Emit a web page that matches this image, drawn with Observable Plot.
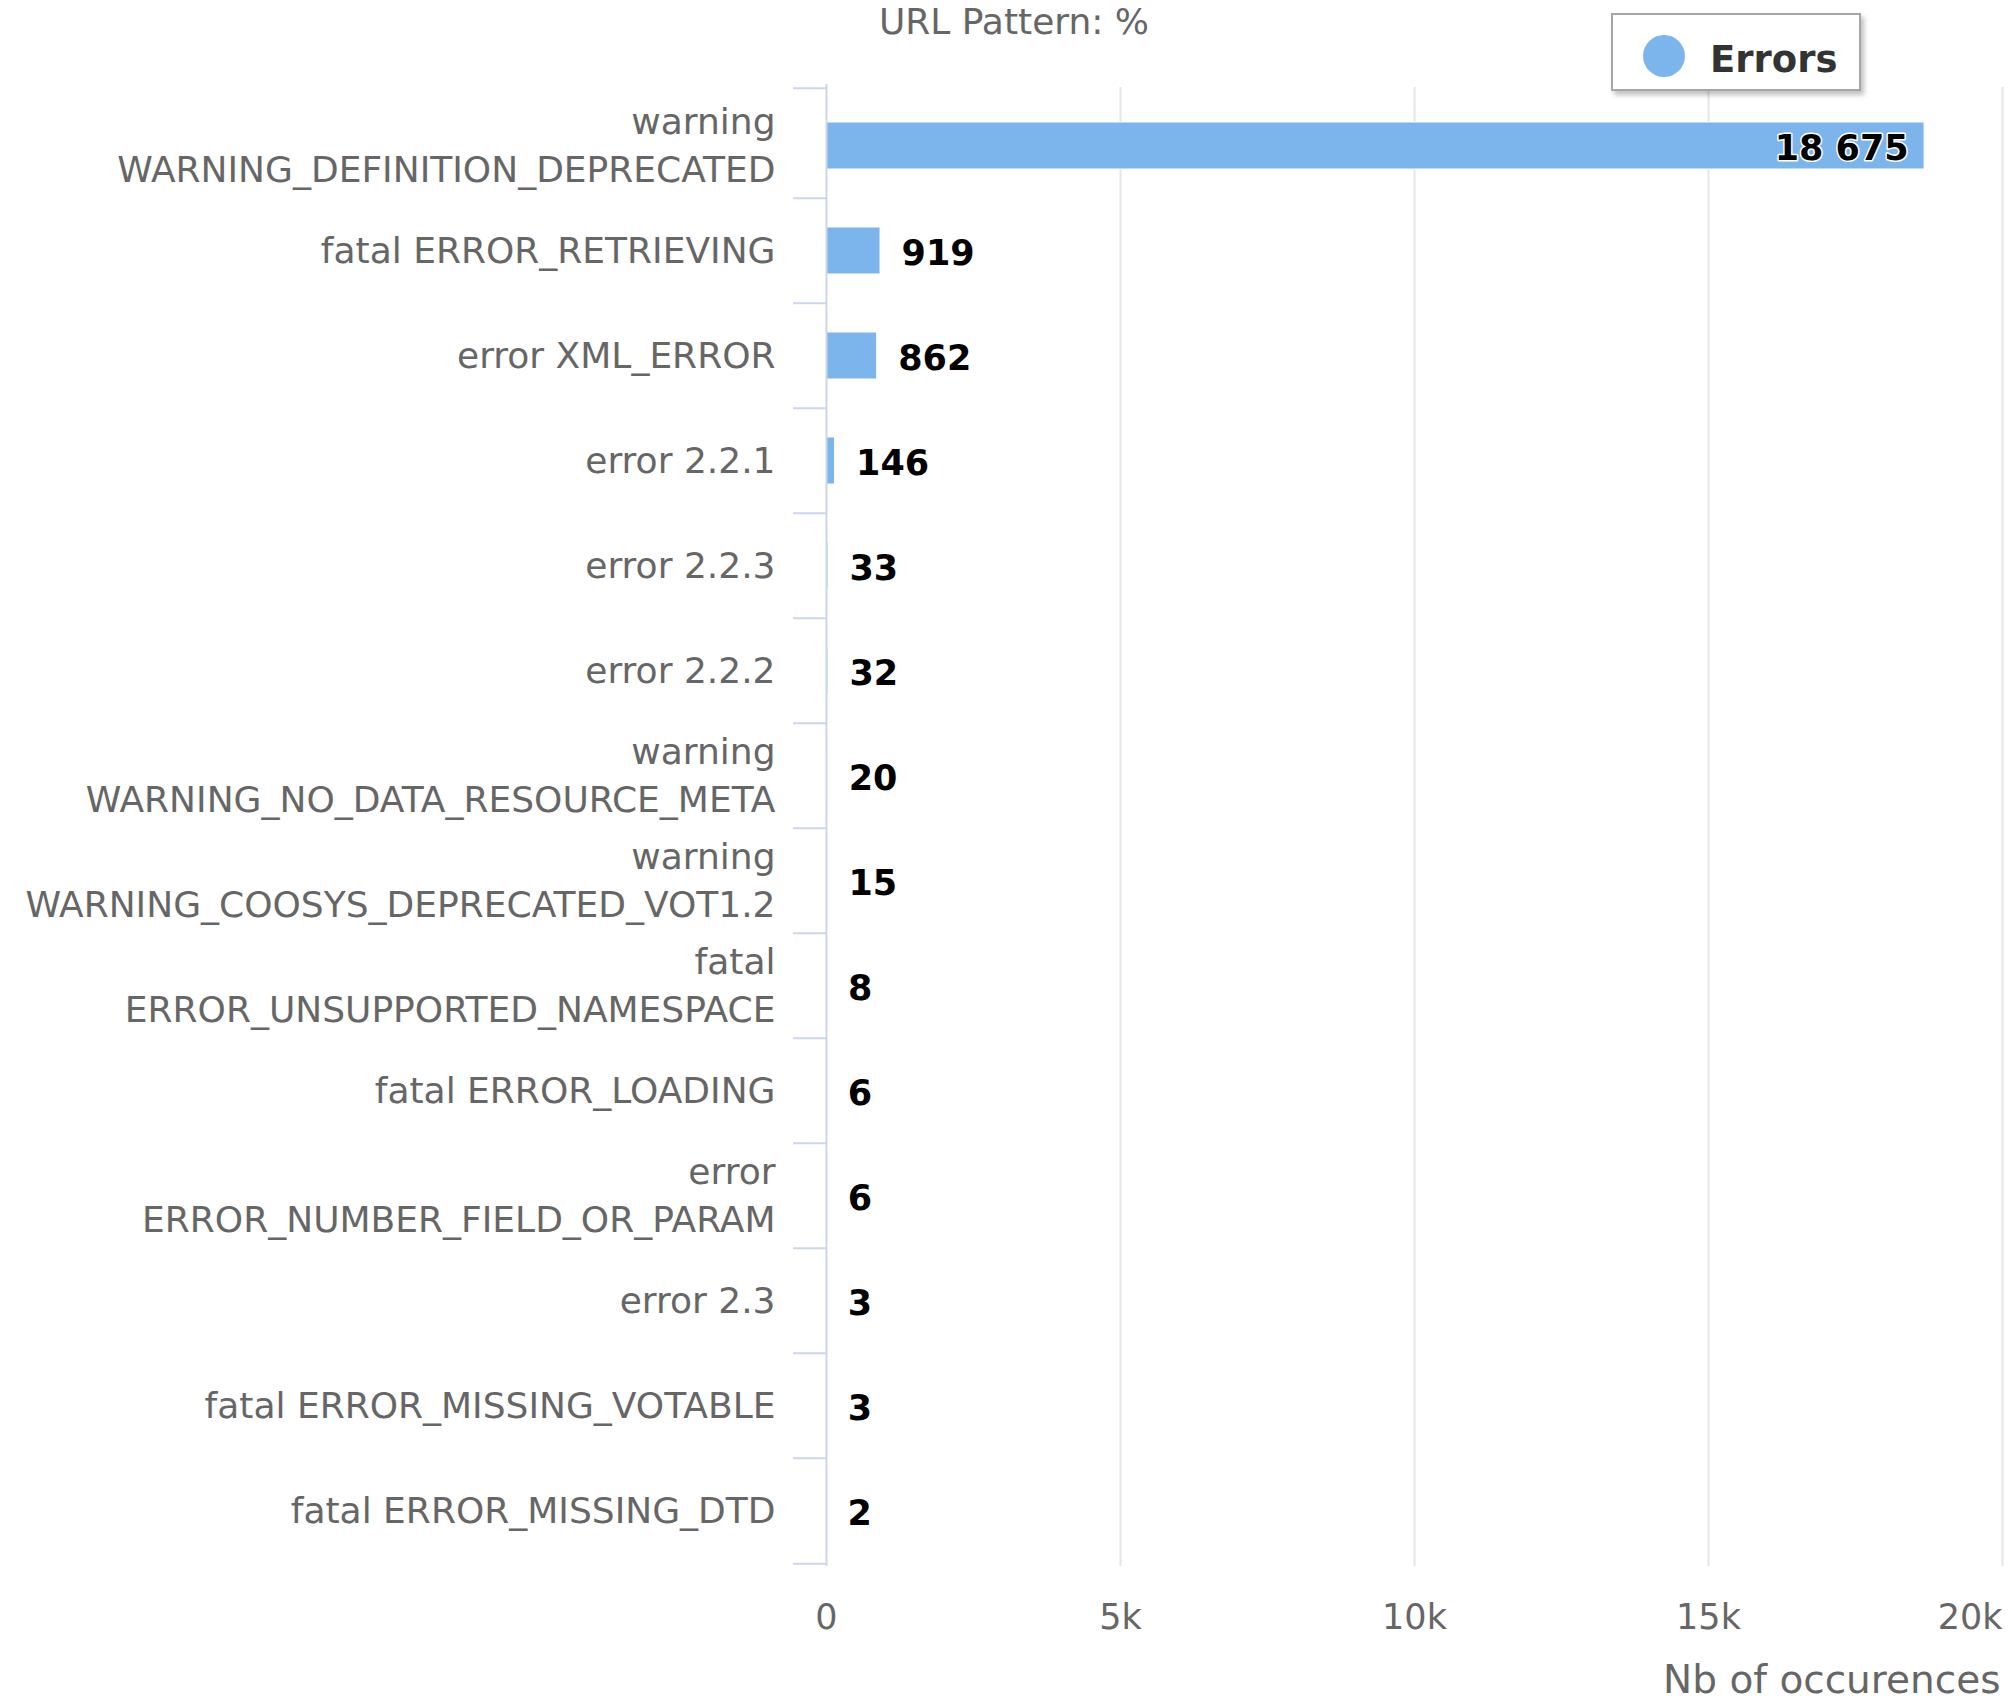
<!DOCTYPE html>
<html>
<head>
<meta charset="utf-8">
<script src="https://cdn.jsdelivr.net/npm/d3@7"></script>
<script src="https://cdn.jsdelivr.net/npm/@observablehq/plot@0.6"></script>
<style>
  html, body { margin: 0; padding: 0; background: #fff; }
  #wrap { position: relative; width: 2015px; height: 1700px; font-family: "DejaVu Sans", sans-serif; }
  #title { position: absolute; left: 0; width: 2028px; top: 0; text-align: center; font-size: 36px; color: #666; line-height: 44px; }
  #legend { position: absolute; left: 1611px; top: 13px; width: 246px; height: 74px; background: #fff;
            border: 2px solid #a6a6a6; box-shadow: 3px 4px 5px rgba(0,0,0,0.25); box-sizing: content-box; }
  #legend .dot { position: absolute; left: 30px; top: 20px; width: 42px; height: 42px; border-radius: 50%; background: #7cb5ec; }
  #legend .lab { position: absolute; left: 97px; top: 16px; font-size: 37px; font-weight: bold; color: #333; line-height: 58px; }
</style>
</head>
<body>
<div id="wrap">
  <div id="chart"></div>
  <div id="title">URL Pattern: %</div>
  <div id="legend"><div class="dot"></div><div class="lab">Errors</div></div>
</div>
<script>
const categories = [
  "warning\nWARNING_DEFINITION_DEPRECATED",
  "fatal ERROR_RETRIEVING",
  "error XML_ERROR",
  "error 2.2.1",
  "error 2.2.3",
  "error 2.2.2",
  "warning\nWARNING_NO_DATA_RESOURCE_META",
  "warning\nWARNING_COOSYS_DEPRECATED_VOT1.2",
  "fatal\nERROR_UNSUPPORTED_NAMESPACE",
  "fatal ERROR_LOADING",
  "error\nERROR_NUMBER_FIELD_OR_PARAM",
  "error 2.3",
  "fatal ERROR_MISSING_VOTABLE",
  "fatal ERROR_MISSING_DTD"
];
const values = [18675, 919, 862, 146, 33, 32, 20, 15, 8, 6, 6, 3, 3, 2];
const xTicks = [0, 5000, 10000, 15000, 20000];
const xTickLabels = ["0", "5k", "10k", "15k", "20k"];
const xTitle = "Nb of occurences";

const data = categories.map((c, i) => ({category: c, value: values[i]}));
const fmt = d3.formatLocale({decimal: ".", thousands: " ", grouping: [3], currency: ["", ""]}).format(",d");
const tickLabel = d => xTickLabels[xTicks.indexOf(d)];
const oneLine = categories.filter(c => !c.includes("\n"));
const twoLine = categories.filter(c => c.includes("\n"));

const W = 2015, H = 1700, mT = 89, mB = 134, mL = 826, mR = 13;
const bw = (H - mT - mB) / categories.length;
const axisColor = "#ccd6eb";
const tickOpts = {tickSize: 33, tickFormat: () => "", stroke: axisColor, strokeWidth: 2, strokeOpacity: 1, label: null};
const labOpts = {tickSize: 0, tickPadding: 51, fill: "#666", fontSize: 36, label: null};

const chart = Plot.plot({
  width: W, height: H,
  marginLeft: mL, marginRight: mR, marginTop: mT, marginBottom: mB,
  style: {fontFamily: "DejaVu Sans", fontSize: "35px", background: "white", overflow: "visible"},
  x: {domain: [0, 20000]},
  y: {domain: categories, padding: 0},
  marks: [
    Plot.gridX(xTicks.slice(1), {stroke: "#e6e6e6", strokeOpacity: 1, strokeWidth: 2, insetTop: -2}),
    Plot.axisX(xTicks.slice(0, -1), {tickSize: 0, tickPadding: 38, tickFormat: tickLabel,
      fill: "#666", fontSize: 35, label: null}),
    Plot.axisX(xTicks.slice(-1), {tickSize: 0, tickPadding: 38, tickFormat: tickLabel, textAnchor: "end",
      fill: "#666", fontSize: 35, label: null}),
    Plot.text([xTitle], {frameAnchor: "bottom-right", dx: -2, dy: 114, lineAnchor: "middle",
      text: d => d, fill: "#666", fontSize: 39}),
    Plot.axisY(oneLine, {...labOpts, lineHeight: 1, dy: 0.5}),
    Plot.axisY(twoLine, {...labOpts, lineHeight: 1.333, dy: -3}),
    Plot.axisY(categories.slice(0, 1), {...tickOpts, dy: -bw / 2 - 5}),
    Plot.axisY(categories.slice(1), {...tickOpts, dy: -bw / 2}),
    Plot.axisY(categories.slice(-1), {...tickOpts, dy: bw / 2}),
    Plot.barX(data, {x: "value", y: "category", fill: "#7cb5ec", insetTop: 29, insetBottom: 29, stroke: "white", strokeWidth: 1}),
    Plot.ruleX([0], {stroke: axisColor, strokeWidth: 2, insetTop: -5}),
    Plot.text(data.filter(d => d.value > 10000), {x: "value", y: "category", text: d => fmt(d.value),
      textAnchor: "end", dx: -16, dy: 2.5, fill: "#000", stroke: "white", strokeWidth: 3, fontWeight: "bold", fontSize: 35}),
    Plot.text(data.filter(d => d.value <= 10000), {x: "value", y: "category", text: d => fmt(d.value),
      textAnchor: "start", dx: 21, dy: 2.5, fill: "#000", fontWeight: "bold", fontSize: 35})
  ]
});
document.getElementById("chart").appendChild(chart);
</script>
</body>
</html>
